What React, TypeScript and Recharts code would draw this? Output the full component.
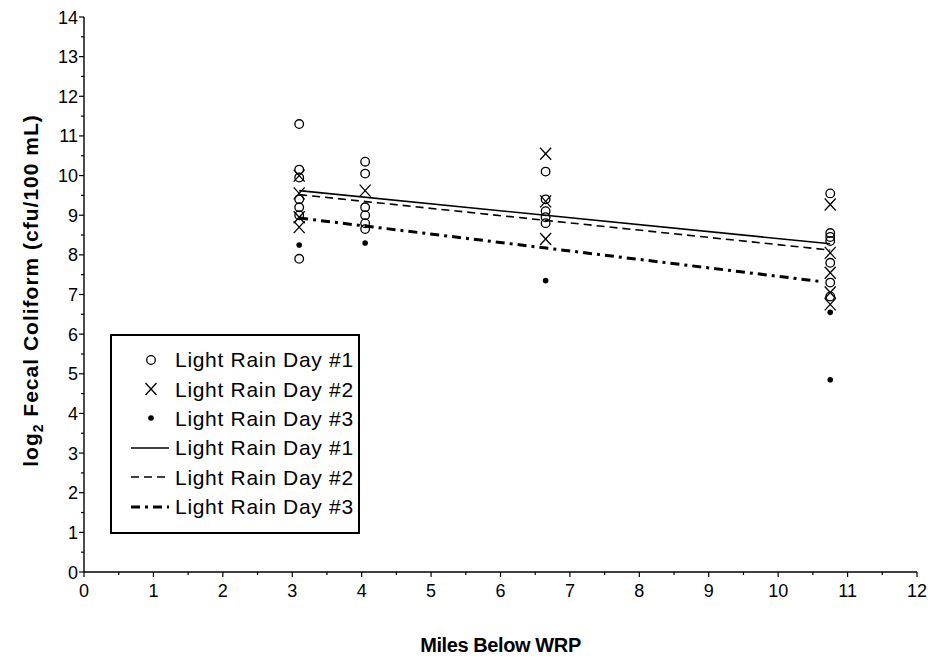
import React from "react";
import { ComposedChart, Scatter, XAxis, YAxis } from "recharts";

const DAY1_POINTS = [
  { x: 3.1, y: 11.3 }, { x: 3.1, y: 10.15 }, { x: 3.1, y: 9.95 }, { x: 3.1, y: 9.4 },
  { x: 3.1, y: 9.2 }, { x: 3.1, y: 9.0 }, { x: 3.1, y: 7.9 },
  { x: 4.05, y: 10.35 }, { x: 4.05, y: 10.05 }, { x: 4.05, y: 9.2 }, { x: 4.05, y: 9.0 },
  { x: 4.05, y: 8.8 }, { x: 4.05, y: 8.65 },
  { x: 6.65, y: 10.1 }, { x: 6.65, y: 9.4 }, { x: 6.65, y: 9.1 }, { x: 6.65, y: 8.95 },
  { x: 6.65, y: 8.8 },
  { x: 10.75, y: 9.55 }, { x: 10.75, y: 8.55 }, { x: 10.75, y: 8.45 }, { x: 10.75, y: 8.35 },
  { x: 10.75, y: 7.8 }, { x: 10.75, y: 7.3 }, { x: 10.75, y: 6.95 },
];

const DAY2_POINTS = [
  { x: 3.1, y: 10.0 }, { x: 3.1, y: 9.55 }, { x: 3.1, y: 8.95 }, { x: 3.1, y: 8.7 },
  { x: 4.05, y: 9.62 },
  { x: 6.65, y: 10.55 }, { x: 6.65, y: 9.35 }, { x: 6.65, y: 8.4 },
  { x: 10.75, y: 9.27 }, { x: 10.75, y: 8.05 }, { x: 10.75, y: 7.55 }, { x: 10.75, y: 7.05 },
  { x: 10.75, y: 6.75 },
];

const DAY3_POINTS = [
  { x: 3.1, y: 8.25 }, { x: 4.05, y: 8.3 }, { x: 6.65, y: 7.35 },
  { x: 10.75, y: 6.55 }, { x: 10.75, y: 4.85 },
];

// Fitted lines (end points)
const DAY1_FIT = [{ x: 3.1, y: 9.62 }, { x: 10.75, y: 8.28 }];
const DAY2_FIT = [{ x: 3.1, y: 9.52 }, { x: 10.75, y: 8.12 }];
const DAY3_FIT = [{ x: 3.1, y: 8.93 }, { x: 10.6, y: 7.33 }];

const X_TICKS = [0, 0.5, 1, 1.5, 2, 2.5, 3, 3.5, 4, 4.5, 5, 5.5, 6, 6.5, 7, 7.5, 8, 8.5, 9, 9.5, 10, 10.5, 11, 11.5, 12];
const Y_TICKS = [0, 0.5, 1, 1.5, 2, 2.5, 3, 3.5, 4, 4.5, 5, 5.5, 6, 6.5, 7, 7.5, 8, 8.5, 9, 9.5, 10, 10.5, 11, 11.5, 12, 12.5, 13, 13.5, 14];

const LEGEND_LABELS = ["Light Rain Day #1", "Light Rain Day #2", "Light Rain Day #3"];

const FONT = "'Liberation Sans', Arial, sans-serif";
const DAY3_DASH = "9 5 3 5";

const XTick = (props: any) => {
  const { x, y, payload } = props;
  const major = Number.isInteger(payload.value);
  return (
    <g>
      <line x1={x} x2={x} y1={y} y2={y + (major ? 5 : 3)} stroke="#000" strokeWidth={1.2} />
      {major && (
        <text x={x} y={y + 25} textAnchor="middle" fontSize={18} fontFamily={FONT} fill="#000">
          {payload.value}
        </text>
      )}
    </g>
  );
};

const YTick = (props: any) => {
  const { x, y, payload } = props;
  const major = Number.isInteger(payload.value);
  return (
    <g>
      <line x1={x} x2={x - (major ? 5 : 3)} y1={y} y2={y} stroke="#000" strokeWidth={1.2} />
      {major && (
        <text x={x - 6} y={y + 6.5} textAnchor="end" fontSize={18} fontFamily={FONT} fill="#000">
          {payload.value}
        </text>
      )}
    </g>
  );
};

const circleShape = (p: any) => (
  <circle cx={p.cx} cy={p.cy} r={4.3} fill="none" stroke="#000" strokeWidth={1.3} />
);
const crossShape = (p: any) => (
  <g stroke="#000" strokeWidth={1.3}>
    <line x1={p.cx - 5.5} y1={p.cy - 6} x2={p.cx + 5.5} y2={p.cy + 6} />
    <line x1={p.cx - 5.5} y1={p.cy + 6} x2={p.cx + 5.5} y2={p.cy - 6} />
  </g>
);
const dotShape = (p: any) => <circle cx={p.cx} cy={p.cy} r={2.8} fill="#000" />;
const noShape = () => <g />;

const XLabel = ({ viewBox }: any) => (
  <text
    x={viewBox.x + viewBox.width / 2}
    y={viewBox.y + 80}
    textAnchor="middle"
    fontSize={20}
    fontWeight="bold"
    fontFamily={FONT}
    letterSpacing={-0.4}
    fill="#000"
  >
    Miles Below WRP
  </text>
);

const YLabel = ({ viewBox }: any) => {
  const cx = viewBox.x + 14;
  const cy = viewBox.y + viewBox.height / 2 - 4;
  return (
    <text
      x={cx}
      y={cy}
      transform={`rotate(-90 ${cx} ${cy})`}
      textAnchor="middle"
      fontSize={21}
      fontWeight="bold"
      fontFamily={FONT}
      letterSpacing={1}
      fill="#000"
    >
      log<tspan fontSize={14} dy={5}>2</tspan>
      <tspan dy={-5}> Fecal Coliform (cfu/100 mL)</tspan>
    </text>
  );
};

const LegendIcon = ({ kind }: { kind: number }) => (
  <svg width={50} height={20} style={{ display: "block", flexShrink: 0 }}>
    {kind === 0 && <circle cx={26} cy={10} r={4.3} fill="none" stroke="#000" strokeWidth={1.3} />}
    {kind === 1 && (
      <g stroke="#000" strokeWidth={1.3}>
        <line x1={20.5} y1={4} x2={31.5} y2={16} />
        <line x1={20.5} y1={16} x2={31.5} y2={4} />
      </g>
    )}
    {kind === 2 && <circle cx={26} cy={10} r={2.8} fill="#000" />}
    {kind === 3 && <line x1={6} x2={44} y1={10} y2={10} stroke="#000" strokeWidth={1.6} />}
    {kind === 4 && <line x1={6} x2={44} y1={10} y2={10} stroke="#000" strokeWidth={1.6} strokeDasharray="8 5" />}
    {kind === 5 && <line x1={6} x2={44} y1={10} y2={10} stroke="#000" strokeWidth={3} strokeDasharray={DAY3_DASH} />}
  </svg>
);

const ChartLegend = () => {
  const rows = [...LEGEND_LABELS, ...LEGEND_LABELS];
  return (
    <div
      style={{
        position: "absolute",
        left: 110,
        top: 334,
        width: 246,
        height: 187,
        border: "2.5px solid #000",
        background: "#fff",
        paddingTop: 9,
        boxSizing: "content-box",
      }}
    >
      {rows.map((label, i) => (
        <div key={i} style={{ display: "flex", alignItems: "center", height: 29.4 }}>
          <div style={{ width: 13, flexShrink: 0 }} />
          <LegendIcon kind={i} />
          <span
            style={{
              fontFamily: FONT,
              fontSize: 21,
              letterSpacing: 0.7,
              lineHeight: "29px",
              color: "#000",
              whiteSpace: "nowrap",
            }}
          >
            {label}
          </span>
        </div>
      ))}
    </div>
  );
};

export default function App() {
  return (
    <div style={{ position: "absolute", left: 0, top: 0, width: 937, height: 661, background: "#fff" }}>
      <ComposedChart width={937} height={661} margin={{ top: 17, right: 20, bottom: 59, left: 24 }}>
        <XAxis
          type="number"
          dataKey="x"
          domain={[0, 12]}
          ticks={X_TICKS}
          interval={0}
          height={30}
          tickSize={0}
          tickMargin={0}
          tickLine={false}
          tick={XTick}
          axisLine={{ stroke: "#000", strokeWidth: 1.4 }}
          label={{ content: XLabel }}
        />
        <YAxis
          type="number"
          dataKey="y"
          domain={[0, 14]}
          ticks={Y_TICKS}
          interval={0}
          width={60}
          tickSize={0}
          tickMargin={0}
          tickLine={false}
          tick={YTick}
          axisLine={{ stroke: "#000", strokeWidth: 1.4 }}
          label={{ content: YLabel }}
        />
        <Scatter data={DAY1_POINTS} shape={circleShape} isAnimationActive={false} />
        <Scatter data={DAY2_POINTS} shape={crossShape} isAnimationActive={false} />
        <Scatter data={DAY3_POINTS} shape={dotShape} isAnimationActive={false} />
        <Scatter data={DAY1_FIT} shape={noShape} line={{ stroke: "#000", strokeWidth: 1.6 }} isAnimationActive={false} />
        <Scatter data={DAY2_FIT} shape={noShape} line={{ stroke: "#000", strokeWidth: 1.6, strokeDasharray: "8 5" }} isAnimationActive={false} />
        <Scatter data={DAY3_FIT} shape={noShape} line={{ stroke: "#000", strokeWidth: 3, strokeDasharray: DAY3_DASH }} isAnimationActive={false} />
      </ComposedChart>
      <ChartLegend />
    </div>
  );
}
